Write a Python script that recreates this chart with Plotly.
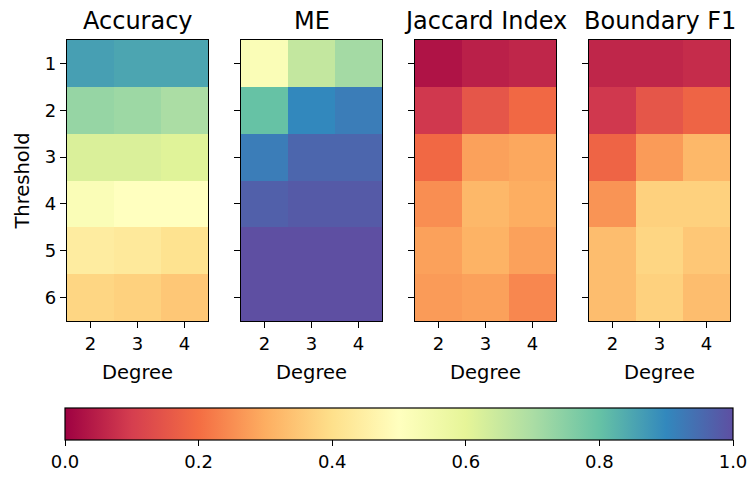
import plotly.graph_objects as go

# Grid values: rows = threshold 1..6, columns = degree 2..4
degrees = ["2", "3", "4"]
thresholds = ["1", "2", "3", "4", "5", "6"]

accuracy = [
    [0.86, 0.85, 0.85],
    [0.73, 0.72, 0.70],
    [0.62, 0.62, 0.61],
    [0.52, 0.50, 0.50],
    [0.44, 0.43, 0.41],
    [0.38, 0.37, 0.35],
]
me = [
    [0.52, 0.66, 0.71],
    [0.80, 0.90, 0.92],
    [0.92, 0.96, 0.96],
    [0.97, 0.98, 0.98],
    [1.00, 1.00, 1.00],
    [1.00, 1.00, 1.00],
]
jaccard = [
    [0.03, 0.05, 0.06],
    [0.09, 0.15, 0.19],
    [0.19, 0.28, 0.29],
    [0.25, 0.32, 0.30],
    [0.28, 0.31, 0.28],
    [0.27, 0.28, 0.24],
]
boundary_f1 = [
    [0.06, 0.06, 0.07],
    [0.09, 0.15, 0.18],
    [0.18, 0.27, 0.32],
    [0.26, 0.37, 0.37],
    [0.33, 0.38, 0.35],
    [0.33, 0.37, 0.33],
]

panel_titles = ["Accuracy", "ME", "Jaccard Index", "Boundary F1"]
panel_data = [accuracy, me, jaccard, boundary_f1]

spectral = ['#9e0142', '#d53e4f', '#f46d43', '#fdae61', '#fee08b', '#ffffbf',
            '#e6f598', '#abdda4', '#66c2a5', '#3288bd', '#5e4fa2']
colorscale = [[i / (len(spectral) - 1), c] for i, c in enumerate(spectral)]

W, H = 749, 478
FONT = "DejaVu Sans"
TICK_SIZE = 18
LABEL_SIZE = 19.5
TITLE_SIZE = 24
x_px = [(67, 208), (241, 382), (415, 556), (589, 730)]
y_top, y_bot = 40, 321

fig = go.Figure()
annotations = []
for i, (title, z) in enumerate(zip(panel_titles, panel_data)):
    n = "" if i == 0 else str(i + 1)
    fig.add_trace(go.Heatmap(
        z=z, x=degrees, y=thresholds, coloraxis="coloraxis",
        xaxis="x" + n, yaxis="y" + n, xgap=0, ygap=0,
        hovertemplate="Degree %{x}<br>Threshold %{y}<br>%{z:.2f}<extra>" + title + "</extra>",
    ))
    x0, x1 = x_px[i]
    axis_common = dict(showline=True, mirror=True, linecolor="black", linewidth=1.2,
                       ticks="outside", ticklen=6, tickwidth=1.2, tickcolor="black",
                       showgrid=False, zeroline=False,
                       tickfont=dict(family=FONT, size=TICK_SIZE, color="black"))
    fig.layout["xaxis" + n] = dict(
        domain=[x0 / W, x1 / W], anchor="y" + n, type="category",
        title=dict(text="Degree", font=dict(family=FONT, size=LABEL_SIZE, color="black"), standoff=12),
        **axis_common)
    fig.layout["yaxis" + n] = dict(
        domain=[1 - y_bot / H, 1 - y_top / H], anchor="x" + n, type="category",
        autorange="reversed", showticklabels=(i == 0),
        title=dict(text="Threshold" if i == 0 else "",
                   font=dict(family=FONT, size=LABEL_SIZE, color="black"), standoff=10),
        **axis_common)
    annotations.append(dict(
        text=title, x=(x0 + x1) / 2 / W, y=1 - 21 / H, xref="paper", yref="paper",
        xanchor="center", yanchor="middle", showarrow=False,
        font=dict(family=FONT, size=TITLE_SIZE, color="black")))

fig.update_layout(
    width=W, height=H, margin=dict(l=0, r=0, t=0, b=0),
    paper_bgcolor="white", plot_bgcolor="white",
    annotations=annotations,
    coloraxis=dict(
        colorscale=colorscale, cmin=0, cmax=1,
        colorbar=dict(
            orientation="h", x=65 / W, xanchor="left", len=(733 - 65) / W, lenmode="fraction",
            y=1 - 408 / H, yanchor="top", thickness=32, xpad=0, ypad=0,
            outlinecolor="black", outlinewidth=1.2,
            tickvals=[0, 0.2, 0.4, 0.6, 0.8, 1.0], ticktext=["0.0", "0.2", "0.4", "0.6", "0.8", "1.0"],
            ticks="outside", ticklen=6, tickcolor="black", tickwidth=1.2,
            tickfont=dict(family=FONT, size=TICK_SIZE, color="black"),
        ),
    ),
)

fig.write_html("out.html")
